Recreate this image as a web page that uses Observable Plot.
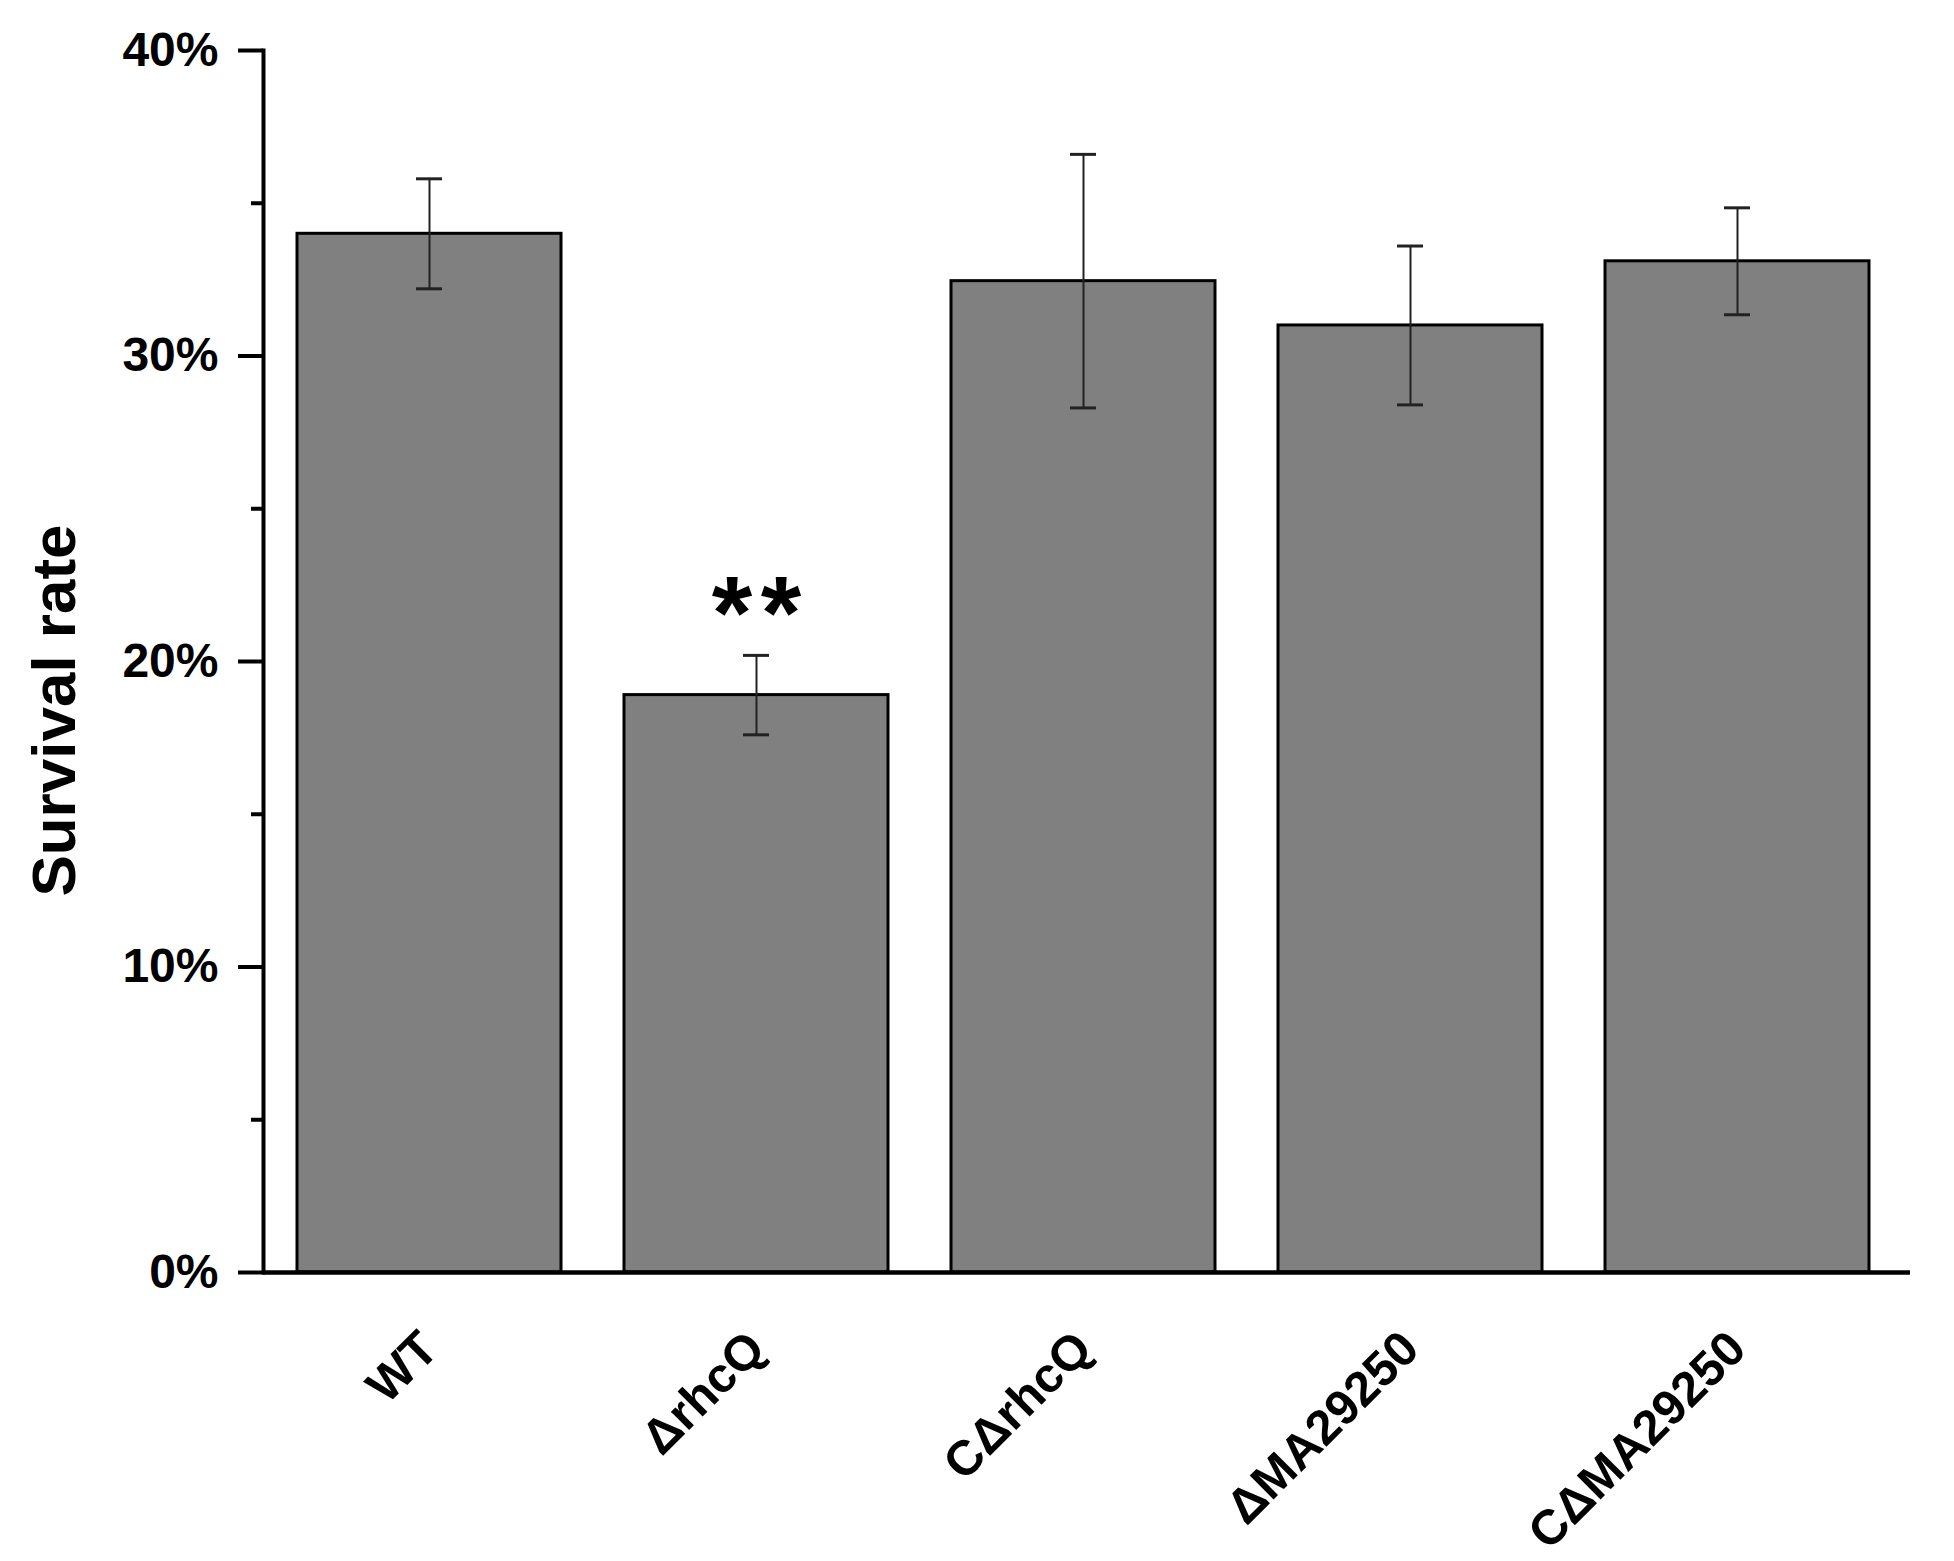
<!DOCTYPE html>
<html>
<head>
<meta charset="utf-8">
<script src="https://cdn.jsdelivr.net/npm/d3@7"></script>
<script src="https://cdn.jsdelivr.net/npm/@observablehq/plot@0.6"></script>
<style>
  html, body { margin: 0; padding: 0; background: #fff; }
  #chart svg { display: block; }
</style>
</head>
<body>
<div id="chart"></div>
<script>
const categories = ["WT", "ΔrhcQ", "CΔrhcQ", "ΔMA29250", "CΔMA29250"];
const means = [34.0, 18.9, 32.45, 31.0, 33.1];
const errors = [1.8, 1.3, 4.15, 2.6, 1.75];
const significance = ["", "**", "", "", ""];
const majorTicks = [0, 10, 20, 30, 40];
const minorTicks = [5, 15, 25, 35];
const yLabel = "Survival rate";

const data = categories.map((c, i) => ({
  name: c, mean: means[i], err: errors[i],
  lo: means[i] - errors[i], hi: means[i] + errors[i], sig: significance[i]
}));

const font = "'Liberation Sans', Arial, sans-serif";

const chart = Plot.plot({
  width: 1954,
  height: 1561,
  marginLeft: 263,
  marginRight: 44,
  marginTop: 50,
  marginBottom: 289,
  style: { fontFamily: font, background: "#fff" },
  x: { domain: categories, paddingInner: 0.194, paddingOuter: 0.097, insetLeft: 1, insetRight: 8, axis: null },
  y: { domain: [0, 40], axis: null },
  marks: [
    Plot.barY(data, { x: "name", y: "mean", fill: "#808080", stroke: "#000", strokeWidth: 3 }),
    Plot.ruleX(data, { x: "name", y1: "lo", y2: "hi", stroke: "#222", strokeWidth: 2 }),
    Plot.tickY(data, { x: "name", y: "lo", stroke: "#222", strokeWidth: 3, insetLeft: 119, insetRight: 119 }),
    Plot.tickY(data, { x: "name", y: "hi", stroke: "#222", strokeWidth: 3, insetLeft: 119, insetRight: 119 }),
    Plot.text(data.filter(d => d.sig), { x: "name", y: "hi", text: d => d.sig.split("").join("\u200A"), fontSize: 104, fontWeight: "bold", dy: -6, lineAnchor: "bottom", fill: "#000" }),
    Plot.frame({ anchor: "left", stroke: "#000", strokeWidth: 4 }),
    Plot.ruleY([0], { stroke: "#000", strokeWidth: 4.5 }),
    Plot.axisY({ ticks: majorTicks, tickSize: 25, tickPadding: 20, strokeWidth: 4, tickFormat: d => d + "%", fontSize: 48, fontWeight: "bold", fill: "#000", label: null }),
    Plot.axisY({ ticks: minorTicks, tickSize: 12, strokeWidth: 4, text: null, label: null }),
    Plot.text(categories, { x: d => d, frameAnchor: "bottom", rotate: -45, textAnchor: "end", lineAnchor: "middle", dx: 0, dy: 68, fontSize: 49, fontWeight: "bold", fill: "#000" }),
    Plot.text([yLabel], { frameAnchor: "left", rotate: -90, textAnchor: "middle", lineAnchor: "middle", dx: -208, dy: 49, fontSize: 62, fontWeight: "bold", fill: "#000" })
  ]
});
document.getElementById("chart").appendChild(chart);
</script>
</body>
</html>
